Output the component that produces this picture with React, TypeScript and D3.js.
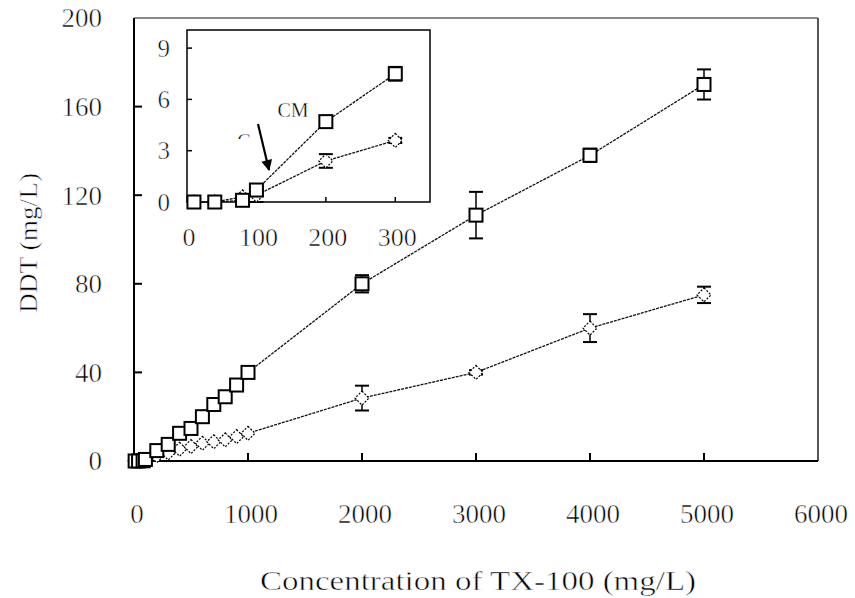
import React from 'react';
import * as d3 from 'd3';

// TX-100 concentration (mg/L)
const concX = [10, 40, 80, 100, 200, 300, 400, 500, 600, 700, 800, 900, 1000, 2000, 3000, 4000, 5000];
// square series (upper)
const squareY = [0, 0, 0.1, 0.7, 4.7, 7.5, 12.5, 14.7, 20, 25.5, 29, 34.3, 40, 80, 111, 138, 170];
const squareErr = [0, 0, 0, 0.3, 0.3, 0.4, 0, 0, 0, 0, 0, 0, 1, 3.9, 10.5, 3, 6.8];
// diamond series (lower)
const diamondY = [0, 0, 0.3, 0.4, 2.4, 3.6, 5.3, 6.5, 8, 8.7, 9.5, 11, 12.5, 28.4, 40, 60, 75];
const diamondErr = [0, 0, 0, 0.4, 0.4, 0.15, 0, 0, 0, 0, 0, 0, 0, 5.6, 1, 6.3, 3.7];

const mainXTicks = [0, 1000, 2000, 3000, 4000, 5000, 6000];
const mainYTicks = [0, 40, 80, 120, 160, 200];
const insetXTicks = [0, 100, 200, 300];
const insetYTicks = [0, 3, 6, 9];
const insetLimit = 300;

const FONT = '"Liberation Serif", "Times New Roman", serif';
const thin = { stroke: '#fff', strokeWidth: 0.55 };

type Pt = { x: number; y: number; e: number };

function Square({ cx, cy }: { cx: number; cy: number }) {
  return <rect x={cx - 6.5} y={cy - 6.5} width={13} height={13} fill="#fff" stroke="#000" strokeWidth={2} />;
}
function Diamond({ cx, cy }: { cx: number; cy: number }) {
  return (
    <path
      d={`M${cx},${cy - 7}L${cx + 7},${cy}L${cx},${cy + 7}L${cx - 7},${cy}Z`}
      fill="#fff"
      stroke="#000"
      strokeWidth={1.2}
      strokeDasharray="2,1.5"
    />
  );
}

function Series({ pts, sx, sy, kind }: { pts: Pt[]; sx: any; sy: any; kind: 'sq' | 'di' }) {
  const line = d3.line<Pt>().x(d => sx(d.x)).y(d => sy(d.y));
  return (
    <g>
      <path d={line(pts) || ''} fill="none" stroke="#111" strokeWidth={1.3} strokeDasharray="3,1" />
      {pts.map((p, i) =>
        p.e > 0 ? (
          <g key={'e' + i} stroke="#000">
            <line x1={sx(p.x)} x2={sx(p.x)} y1={sy(p.y - p.e)} y2={sy(p.y + p.e)} strokeWidth={1.5} />
            <line x1={sx(p.x) - 7} x2={sx(p.x) + 7} y1={sy(p.y - p.e)} y2={sy(p.y - p.e)} strokeWidth={2} />
            <line x1={sx(p.x) - 7} x2={sx(p.x) + 7} y1={sy(p.y + p.e)} y2={sy(p.y + p.e)} strokeWidth={2} />
          </g>
        ) : null
      )}
      {pts.map((p, i) =>
        kind === 'sq' ? (
          <Square key={i} cx={sx(p.x)} cy={sy(p.y)} />
        ) : (
          <Diamond key={i} cx={sx(p.x)} cy={sy(p.y)} />
        )
      )}
    </g>
  );
}

export default function App() {
  const W = 855,
    H = 598;
  const x = d3.scaleLinear().domain([0, 6000]).range([134, 818]);
  const y = d3.scaleLinear().domain([0, 200]).range([461, 18]);
  const ix = d3.scaleLinear().domain([0, 350]).range([187, 430]);
  const iy = d3.scaleLinear().domain([0, 10]).range([202, 31]);

  const sq: Pt[] = concX.map((c, i) => ({ x: c, y: squareY[i], e: squareErr[i] }));
  const di: Pt[] = concX.map((c, i) => ({ x: c, y: diamondY[i], e: diamondErr[i] }));
  const sqIn = sq.filter(p => p.x <= insetLimit);
  const diIn = di.filter(p => p.x <= insetLimit);

  const [x0, x1] = x.range();
  const [y0, y1] = y.range();
  const [ix0, ix1] = ix.range();
  const [iy0, iy1] = iy.range();

  return (
    <svg width={W} height={H} style={{ position: 'absolute', left: 0, top: 0, background: '#fff' }} fontFamily={FONT}>
      <rect x={0} y={0} width={W} height={H} fill="#fff" />
      {/* plot frame */}
      <line x1={x0} x2={x1} y1={y1} y2={y1} stroke="#888" strokeWidth={2} />
      <line x1={x1} x2={x1} y1={y1} y2={y0} stroke="#555" strokeWidth={2} />
      <line x1={x0} x2={x0} y1={y1} y2={y0} stroke="#000" strokeWidth={2} />
      <line x1={x0} x2={x1} y1={y0} y2={y0} stroke="#000" strokeWidth={2} />
      {mainYTicks.slice(1, -1).map(t => (
        <line key={t} x1={x0} x2={x0 + 8} y1={y(t)} y2={y(t)} stroke="#000" strokeWidth={2} />
      ))}
      {mainXTicks.slice(1, -1).map(t => (
        <line key={t} x1={x(t)} x2={x(t)} y1={y0} y2={y0 - 8} stroke="#000" strokeWidth={2} />
      ))}
      <g {...thin} fill="#000">
        {mainYTicks.map(t => (
          <text key={t} x={102} y={y(t)} dy="0.35em" textAnchor="end" fontSize={27}>
            {t}
          </text>
        ))}
        {mainXTicks.map(t => (
          <text key={t} x={x(t) + 3} y={523} textAnchor="middle" fontSize={27}>
            {t}
          </text>
        ))}
        <text x={478} y={590} textAnchor="middle" fontSize={28} textLength={436} lengthAdjust="spacingAndGlyphs">
          Concentration of TX-100 (mg/L)
        </text>
        <text
          transform="translate(37,243) rotate(-90)"
          textAnchor="middle"
          fontSize={26}
          textLength={140}
          lengthAdjust="spacingAndGlyphs"
        >
          DDT (mg/L)
        </text>
      </g>

      <Series pts={di} sx={x} sy={y} kind="di" />
      <Series pts={sq} sx={x} sy={y} kind="sq" />

      {/* inset */}
      <rect x={ix0} y={iy1 - 1} width={ix1 - ix0} height={iy0 - iy1 + 1} fill="#fff" stroke="#000" strokeWidth={1.5} />
      {insetYTicks.slice(1).map(t => (
        <line key={t} x1={ix0} x2={ix0 + 5} y1={iy(t)} y2={iy(t)} stroke="#000" strokeWidth={1.5} />
      ))}
      {insetXTicks.slice(1).map(t => (
        <line key={t} x1={ix(t)} x2={ix(t)} y1={iy0} y2={iy0 - 5} stroke="#000" strokeWidth={1.5} />
      ))}
      <g {...thin} fill="#000">
        {insetYTicks.map(t => (
          <text key={t} x={170} y={iy(t)} dy="0.35em" textAnchor="end" fontSize={25}>
            {t}
          </text>
        ))}
        {insetXTicks.map(t => (
          <text key={t} x={ix(t) + 2} y={246} textAnchor="middle" fontSize={26}>
            {t}
          </text>
        ))}
      </g>
      <Series pts={diIn} sx={ix} sy={iy} kind="di" />
      <Series pts={sqIn} sx={ix} sy={iy} kind="sq" />
      <defs>
        <clipPath id="cclip">
          <rect x={230} y={120} width={30} height={19} />
        </clipPath>
        <marker id="ah" viewBox="0 0 10 10" refX={9} refY={5} markerWidth={5.5} markerHeight={5} orient="auto">
          <path d="M0,0L10,5L0,10Z" fill="#000" />
        </marker>
      </defs>
      <g stroke="#fff" strokeWidth={0.35} fill="#000">
        <text x={293} y={117} textAnchor="middle" fontSize={20}>
          CM
        </text>
        <text x={244} y={148} textAnchor="middle" fontSize={20} clipPath="url(#cclip)">
          C
        </text>
      </g>
      <line x1={258} y1={124} x2={269} y2={170} stroke="#000" strokeWidth={2.2} markerEnd="url(#ah)" />
    </svg>
  );
}
